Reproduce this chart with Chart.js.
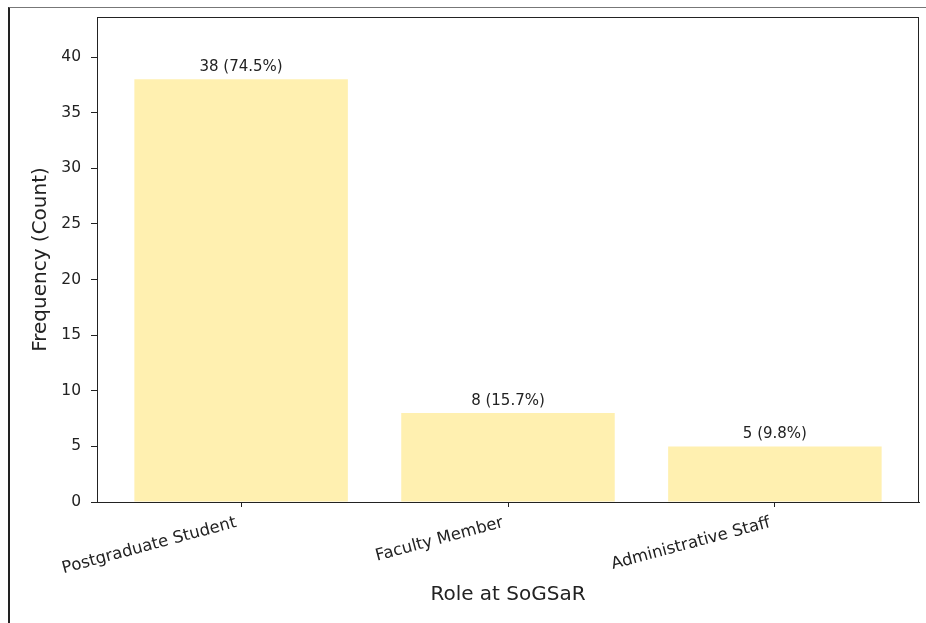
<!DOCTYPE html>
<html>
<head>
<meta charset="utf-8">
<script src="https://cdn.jsdelivr.net/npm/chart.js@4/dist/chart.umd.min.js"></script>
<style>
    body { margin: 0; background: #fff; }
    #wrap { position: relative; width: 926px; height: 623px; overflow: hidden; }
    #edge { position: absolute; left: 8px; top: 7px; right: 0; bottom: 0;
            border-top: 1px solid #777; border-left: 2px solid #222; pointer-events: none; }
    canvas { position: absolute; left: 0; top: 0; }
</style>
</head>
<body>
<div id="wrap">
    <canvas id="roleChart" width="926" height="623"></canvas>
    <div id="edge"></div>
</div>
<script>
const categories = ['Postgraduate Student', 'Faculty Member', 'Administrative Staff'];
const counts = [38, 8, 5];
const percentLabels = ['74.5%', '15.7%', '9.8%'];
const yTicks = [0, 5, 10, 15, 20, 25, 30, 35, 40];

const FONT = "'DejaVu Sans', sans-serif";
const INK = '#222';

// box around the plot area, like matplotlib spines
const framePlugin = {
    id: 'frame',
    afterDraw(chart) {
        const { ctx, chartArea } = chart;
        ctx.save();
        ctx.strokeStyle = INK;
        ctx.lineWidth = 1;
        ctx.strokeRect(chartArea.left + 0.5, chartArea.top + 0.5,
            chartArea.right - chartArea.left - 1, chartArea.bottom - chartArea.top);
        ctx.restore();
    }
};

// "count (pct)" above each bar
const valueLabels = {
    id: 'valueLabels',
    afterDatasetsDraw(chart) {
        const { ctx } = chart;
        const meta = chart.getDatasetMeta(0);
        ctx.save();
        ctx.font = '15px ' + FONT;
        ctx.fillStyle = INK;
        ctx.textAlign = 'center';
        ctx.textBaseline = 'alphabetic';
        meta.data.forEach((bar, i) => {
            ctx.fillText(counts[i] + ' (' + percentLabels[i] + ')', bar.x, bar.y - 8);
        });
        ctx.restore();
    }
};

new Chart(document.getElementById('roleChart'), {
    type: 'bar',
    data: {
        datasets: [{
            data: counts.map((v, i) => ({ x: i, y: v })),
            backgroundColor: '#fff0b0',
            borderWidth: 0,
            categoryPercentage: 1,
            barPercentage: 0.8
        }]
    },
    options: {
        responsive: false,
        animation: false,
        layout: { padding: { top: 17, right: 7, left: 0, bottom: 0 } },
        plugins: { legend: { display: false }, tooltip: { enabled: false } },
        scales: {
            x: {
                type: 'linear',
                offset: false,
                min: -0.54,
                max: 2.54,
                afterBuildTicks: scale => { scale.ticks = categories.map((c, i) => ({ value: i })); },
                afterFit: scale => { scale.height = 121; },
                ticks: {
                    callback: v => categories[v],
                    minRotation: 15,
                    maxRotation: 15,
                    padding: 6,
                    labelOffset: -5,
                    color: INK,
                    font: { family: FONT, size: 16.5 }
                },
                grid: { offset: false, drawOnChartArea: false, tickLength: 5, tickColor: INK },
                border: { color: INK, width: 1 },
                title: {
                    display: true,
                    text: 'Role at SoGSaR',
                    color: INK,
                    font: { family: FONT, size: 20 },
                    padding: { top: 0, bottom: 16 }
                }
            },
            y: {
                min: 0,
                max: 43.6,
                afterBuildTicks: scale => { scale.ticks = yTicks.map(v => ({ value: v })); },
                afterFit: scale => {
                    scale.width = 97;
                    // top tick sits well inside the axis, no extra room needed
                    scale.paddingTop = 0;
                    scale.paddingBottom = 0;
                },
                ticks: {
                    padding: 10,
                    color: INK,
                    font: { family: FONT, size: 15.5 }
                },
                grid: { drawOnChartArea: false, tickLength: 6, tickColor: INK },
                border: { color: INK, width: 1 },
                title: {
                    display: true,
                    text: 'Frequency (Count)',
                    color: INK,
                    font: { family: FONT, size: 20 },
                    padding: { top: 29, bottom: 0 }
                }
            }
        }
    },
    plugins: [framePlugin, valueLabels]
});
</script>
</body>
</html>
